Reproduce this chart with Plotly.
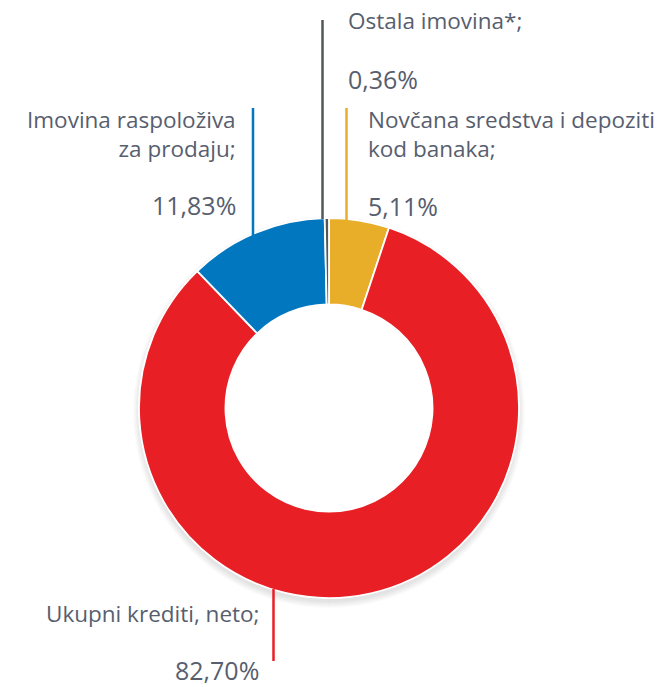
import plotly.graph_objects as go

# ---- data ----
labels = ["Novčana sredstva i depoziti kod banaka", "Ukupni krediti, neto",
          "Imovina raspoloživa za prodaju", "Ostala imovina*"]
values = [5.11, 82.70, 11.83, 0.36]
value_text = ["5,11%", "82,70%", "11,83%", "0,36%"]
label_text = ["Novčana sredstva i depoziti<br>kod banaka;", "Ukupni krediti, neto;",
              "Imovina raspoloživa<br>za prodaju;", "Ostala imovina*;"]
colors = ["#E9AE29", "#E81F25", "#0077BE", "#525759"]

W, H = 668, 687
FONT = "Open Sans"
TXT = "#575E6E"

# pie geometry (page pixels)
cx, cy, R = 329, 408, 190

def px(x):
    return x / W

def py(y):
    return (H - y) / H

fig = go.Figure()

# soft drop shadow under the ring (stacked translucent rings)
for i in range(7):
    r = R + i
    sy = cy + 4
    fig.add_trace(go.Pie(
        values=[1], sort=False, textinfo="none", hoverinfo="skip",
        hole=150 / r,
        marker=dict(colors=["rgba(0,0,0,0.016)"], line=dict(width=0)),
        domain=dict(x=[px(cx - r), px(cx + r)], y=[py(sy + r), py(sy - r)]),
        showlegend=False,
    ))

fig.add_trace(go.Pie(
    labels=labels, values=values, sort=False, direction="clockwise", rotation=0,
    hole=0.545, textinfo="none", hoverinfo="label+percent",
    marker=dict(colors=colors, line=dict(color="white", width=1.8)),
    domain=dict(x=[px(cx - R), px(cx + R)], y=[py(cy + R), py(cy - R)]),
    showlegend=False,
))

# leader lines: (x, y_top, y_bottom)
leaders = [
    (346.5, 108, 220),
    (273.5, 589, 661),
    (253, 108, 236),
    (322.5, 20, 219),
]
shapes = []
for (x, y0, y1), c in zip(leaders, colors):
    shapes.append(dict(type="line", xref="paper", yref="paper",
                       x0=px(x), x1=px(x), y0=py(y0), y1=py(y1),
                       line=dict(color=c, width=2.5), layer="above"))

# text anchors: (x, label_mid_y, value_mid_y, xanchor)
anchors = [
    (366, 134, 206, "left"),
    (261, 613, 670, "right"),
    (238, 134, 205, "right"),
    (346, 20, 79, "left"),
]
annotations = []
for (x, yl, yv, xa), lt, vt in zip(anchors, label_text, value_text):
    annotations.append(dict(
        xref="paper", yref="paper", x=px(x), y=py(yl), xanchor=xa, yanchor="middle",
        align=xa, showarrow=False, text=lt,
        font=dict(family=FONT, size=22.5, color=TXT)))
    annotations.append(dict(
        xref="paper", yref="paper", x=px(x), y=py(yv), xanchor=xa, yanchor="middle",
        align=xa, showarrow=False, text=vt,
        font=dict(family=FONT, size=25, color=TXT)))

fig.update_layout(
    width=W, height=H, margin=dict(l=0, r=0, t=0, b=0),
    paper_bgcolor="white", plot_bgcolor="white",
    shapes=shapes, annotations=annotations,
)

fig.write_html("out.html", config={"displayModeBar": False},
               post_script="document.body.style.margin='0';document.body.style.overflow='hidden';")
